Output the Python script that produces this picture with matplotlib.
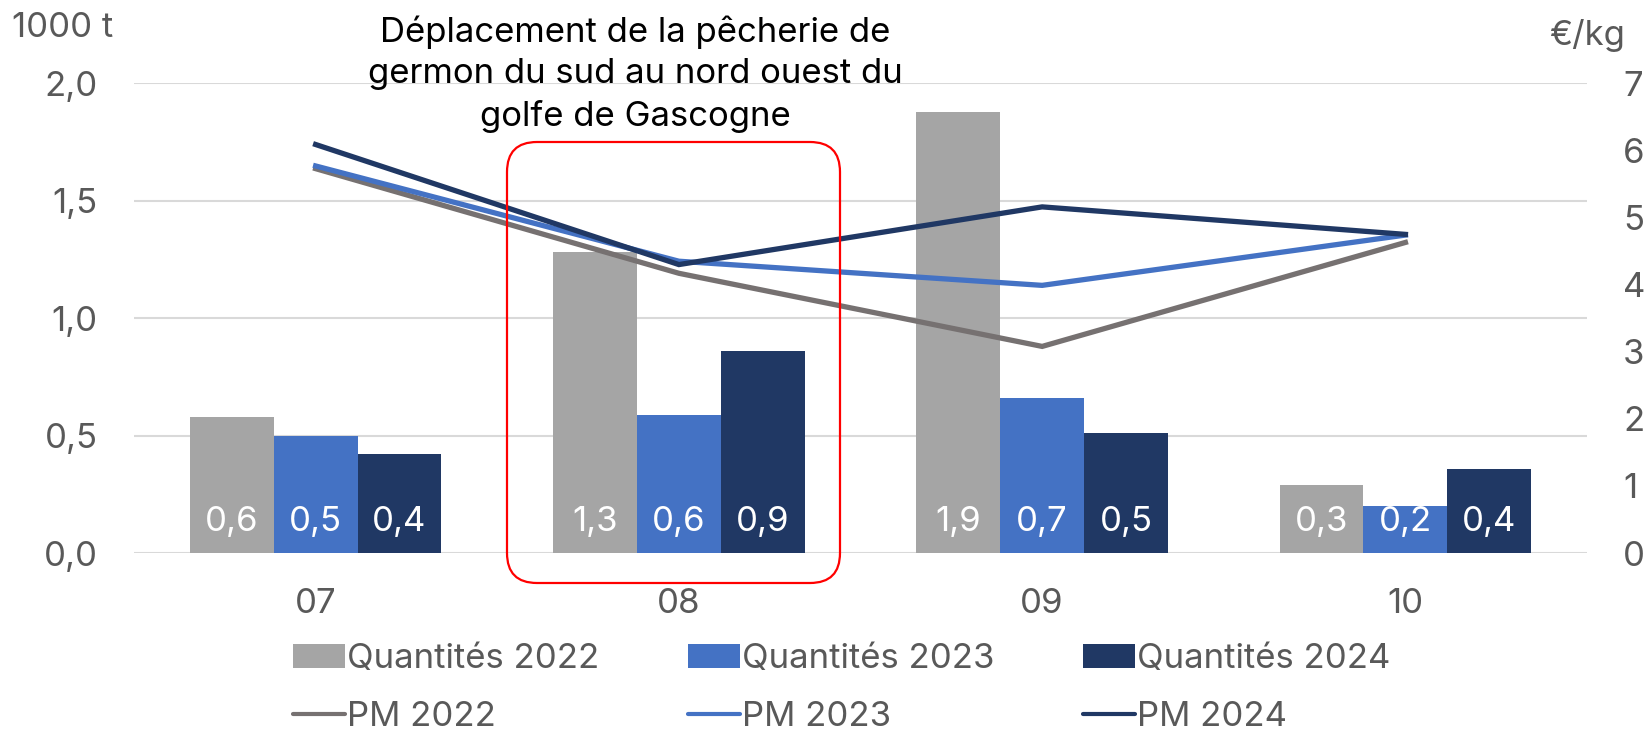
import matplotlib
matplotlib.use("Agg")
import matplotlib.pyplot as plt
import numpy as np
from matplotlib.patches import FancyBboxPatch, Patch
from matplotlib.lines import Line2D

months = ["07", "08", "09", "10"]
qty_2022 = [0.58, 1.28, 1.88, 0.29]
qty_2023 = [0.50, 0.59, 0.66, 0.20]
qty_2024 = [0.42, 0.86, 0.51, 0.36]
pm_2022 = [5.73, 4.17, 3.08, 4.63]
pm_2023 = [5.77, 4.35, 3.99, 4.74]
pm_2024 = [6.09, 4.30, 5.16, 4.75]
left_ticks = [0.0, 0.5, 1.0, 1.5, 2.0]
left_tick_labels = ["0,0", "0,5", "1,0", "1,5", "2,0"]
right_ticks = [0, 1, 2, 3, 4, 5, 6, 7]
note = "Déplacement de la pêcherie de\ngermon du sud au nord ouest du\ngolfe de Gascogne"

plt.rcParams["font.family"] = ["Inter", "DejaVu Sans"]
TXT = "#595959"
C22, C23, C24 = "#A5A5A5", "#4472C4", "#203864"
L22 = "#767171"
FS = 25

fig = plt.figure(figsize=(16.46, 7.32), dpi=100)
ax = fig.add_axes([0.0814, 0.2445, 0.9642 - 0.0814, 0.886 - 0.2445])
ax2 = ax.twinx()

x = np.arange(len(months))
w = 0.231
bar_sets = [(qty_2022, C22, "Quantités 2022"),
            (qty_2023, C23, "Quantités 2023"),
            (qty_2024, C24, "Quantités 2024")]
for i, (vals, col, lab) in enumerate(bar_sets):
    xs = x + (i - 1) * w
    ax.bar(xs, vals, width=w, color=col, zorder=2)
    for xi, v in zip(xs, vals):
        ax.annotate(f"{v:.1f}".replace(".", ","), xy=(xi, 0), xytext=(0, 22),
                    textcoords="offset points", ha="center", va="center",
                    color="white", fontsize=FS, zorder=3)

line_sets = [(pm_2022, L22, "PM 2022"), (pm_2023, C23, "PM 2023"),
             (pm_2024, C24, "PM 2024")]
for vals, col, lab in line_sets:
    ax2.plot(x, vals, color=col, linewidth=3.8, solid_joinstyle="miter")

ax.set_xlim(-0.5, 3.5)
ax.set_ylim(0, 2.0)
ax2.set_ylim(0, 7)
ax.set_yticks(left_ticks)
ax.set_yticklabels(left_tick_labels)
ax2.set_yticks(right_ticks)
ax.set_xticks(x)
ax.set_xticklabels(months)
ax.grid(axis="y", color="#D9D9D9", linewidth=1.5, zorder=0)
ax.set_axisbelow(True)
for a in (ax, ax2):
    for s in a.spines.values():
        s.set_visible(False)
ax.tick_params(axis="y", length=0, pad=26, labelsize=FS, labelcolor=TXT)
ax.tick_params(axis="x", length=0, pad=25, labelsize=FS, labelcolor=TXT)
ax2.tick_params(axis="y", length=0, pad=26, labelsize=FS, labelcolor=TXT)

fig.text(63 / 1646, 1 - 28 / 732, "1000 t", ha="center", va="center",
         fontsize=FS, color=TXT)
fig.text(1587 / 1646, 1 - 35 / 732, "€/kg", ha="center", va="center",
         fontsize=FS, color=TXT)

# overlay in pixel units for the annotation box
ov = fig.add_axes([0, 0, 1, 1], facecolor="none")
ov.set_xlim(0, 1646)
ov.set_ylim(732, 0)
ov.axis("off")
ov.add_patch(FancyBboxPatch((507, 142), 333, 441,
                            boxstyle="round,pad=0,rounding_size=30",
                            fill=False, edgecolor="#FF0000", linewidth=1.6))
ov.text(635, 74, note, ha="center", va="center", fontsize=25,
        color="black", linespacing=1.38)

handles = []
for (vals, col, lab), (lv, lc, ll) in zip(bar_sets, line_sets):
    handles.append(Patch(facecolor=col, label=lab))
    handles.append(Line2D([], [], color=lc, linewidth=3, label=ll,
                          solid_capstyle="round"))
leg = fig.legend(handles=handles, ncol=3, loc="center",
                 bbox_to_anchor=(0.5115, 0.060), frameon=False, fontsize=25,
                 handlelength=1.5, handletextpad=0.06, columnspacing=2.55,
                 labelspacing=0.75, labelcolor=TXT)

fig.savefig("out.png", dpi=100)
